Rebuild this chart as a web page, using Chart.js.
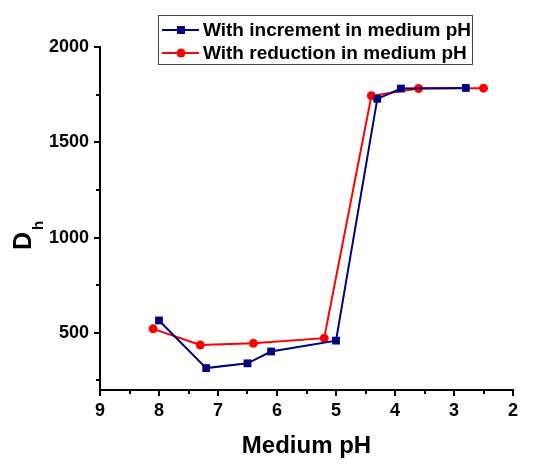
<!DOCTYPE html>
<html>
<head>
<meta charset="utf-8">
<script src="https://cdn.jsdelivr.net/npm/chart.js@4/dist/chart.umd.min.js"></script>
<style>
  html, body { margin: 0; padding: 0; background: #fff; }
  #wrap { width: 533px; height: 464px; position: relative; }
</style>
</head>
<body>
<div id="wrap"><canvas id="phChart" width="533" height="464"></canvas></div>
<script>
// data
const incPH = [8.0, 7.2, 6.5, 6.1, 5.0, 4.3, 3.9, 2.8];
const incDh = [565, 315, 340, 402, 459, 1728, 1782, 1785];
const redPH = [8.1, 7.3, 6.4, 5.2, 4.4, 3.6, 2.5];
const redDh = [521, 436, 445, 472, 1744, 1782, 1784];
const xTicks = [9, 8, 7, 6, 5, 4, 3, 2];
const yTicks = [500, 1000, 1500, 2000];
const xMinor = [8.5, 7.5, 6.5, 5.5, 4.5, 3.5, 2.5];
const yMinor = [250, 750, 1250, 1750];
const seriesNames = ['With increment in medium pH', 'With reduction in medium pH'];

const FONT = '"Liberation Sans", Arial, sans-serif';
const toPts = (xs, ys) => xs.map((x, i) => ({ x: x, y: ys[i] }));

// minor ticks, axis titles and the boxed legend
const decorations = {
    id: 'decorations',
    afterDraw(chart) {
        const ctx = chart.ctx;
        const xs = chart.scales.x, ys = chart.scales.y;
        const area = chart.chartArea;
        ctx.save();
        ctx.strokeStyle = '#000';
        ctx.lineWidth = 2;
        xMinor.forEach(v => {
            const px = Math.round(xs.getPixelForValue(v));
            ctx.beginPath();
            ctx.moveTo(px, area.bottom);
            ctx.lineTo(px, area.bottom + 4);
            ctx.stroke();
        });
        yMinor.forEach(v => {
            const py = Math.round(ys.getPixelForValue(v));
            ctx.beginPath();
            ctx.moveTo(area.left, py);
            ctx.lineTo(area.left - 4, py);
            ctx.stroke();
        });

        // x title
        ctx.fillStyle = '#000';
        ctx.font = 'bold 24px ' + FONT;
        ctx.textAlign = 'center';
        ctx.textBaseline = 'middle';
        ctx.fillText('Medium pH', (area.left + area.right) / 2, 446);

        // y title D with subscript h
        ctx.save();
        ctx.translate(24, 241);
        ctx.rotate(-Math.PI / 2);
        ctx.font = 'bold 25px ' + FONT;
        ctx.textAlign = 'center';
        ctx.textBaseline = 'middle';
        ctx.fillText('D', 0, 0);
        ctx.font = 'bold 15px ' + FONT;
        ctx.textAlign = 'left';
        ctx.fillText('h', 11, 15);
        ctx.restore();

        // legend box
        ctx.strokeStyle = '#444';
        ctx.lineWidth = 1;
        ctx.strokeRect(158.5, 15.5, 314, 49);
        const rows = [
            { y: 30, color: '#000080', name: seriesNames[0], square: true },
            { y: 53, color: '#ff0000', name: seriesNames[1], square: false }
        ];
        rows.forEach(r => {
            ctx.strokeStyle = r.color;
            ctx.fillStyle = r.color;
            ctx.lineWidth = 2;
            ctx.beginPath();
            ctx.moveTo(162, r.y);
            ctx.lineTo(199, r.y);
            ctx.stroke();
            if (r.square) {
                ctx.fillRect(177, r.y - 4, 8, 8);
            } else {
                ctx.beginPath();
                ctx.arc(181, r.y, 4.5, 0, Math.PI * 2);
                ctx.fill();
            }
            ctx.fillStyle = '#000';
            ctx.font = 'bold 19px ' + FONT;
            ctx.textAlign = 'left';
            ctx.textBaseline = 'middle';
            ctx.fillText(r.name, 203, r.y + 1);
        });
        ctx.restore();
    }
};

new Chart(document.getElementById('phChart').getContext('2d'), {
    type: 'scatter',
    data: {
        datasets: [{
            label: seriesNames[0],
            data: toPts(incPH, incDh),
            showLine: true,
            borderColor: '#000080',
            backgroundColor: '#000080',
            borderWidth: 2,
            pointStyle: 'rect',
            pointRadius: 5.5,
            pointBorderWidth: 0,
            pointHoverRadius: 5.5
        }, {
            label: seriesNames[1],
            data: toPts(redPH, redDh),
            showLine: true,
            borderColor: '#ff0000',
            backgroundColor: '#ff0000',
            borderWidth: 2,
            pointStyle: 'circle',
            pointRadius: 4.5,
            pointBorderWidth: 0,
            pointHoverRadius: 4.5
        }]
    },
    options: {
        responsive: false,
        animation: false,
        layout: { padding: { left: 0, right: 20, top: 47, bottom: 0 } },
        plugins: {
            legend: { display: false },
            tooltip: { enabled: false }
        },
        scales: {
            x: {
                type: 'linear',
                reverse: true,
                min: 2,
                max: 9,
                afterBuildTicks: s => { s.ticks = xTicks.map(v => ({ value: v })); },
                afterFit: s => { s.height = 74; },
                ticks: {
                    color: '#000',
                    font: { family: FONT, size: 18, weight: 'bold' },
                    padding: 4,
                    maxRotation: 0,
                    callback: v => String(v)
                },
                grid: { drawOnChartArea: false, drawTicks: true, tickLength: 6, color: '#000', lineWidth: 2 },
                border: { display: true, color: '#000', width: 2 }
            },
            y: {
                type: 'linear',
                min: 200,
                max: 2000,
                afterBuildTicks: s => { s.ticks = yTicks.map(v => ({ value: v })); },
                afterFit: s => { s.width = 100; },
                ticks: {
                    color: '#000',
                    font: { family: FONT, size: 18, weight: 'bold' },
                    padding: 5,
                    callback: v => String(v)
                },
                grid: { drawOnChartArea: false, drawTicks: true, tickLength: 6, color: '#000', lineWidth: 2 },
                border: { display: true, color: '#000', width: 2 }
            }
        }
    },
    plugins: [decorations]
});
</script>
</body>
</html>
